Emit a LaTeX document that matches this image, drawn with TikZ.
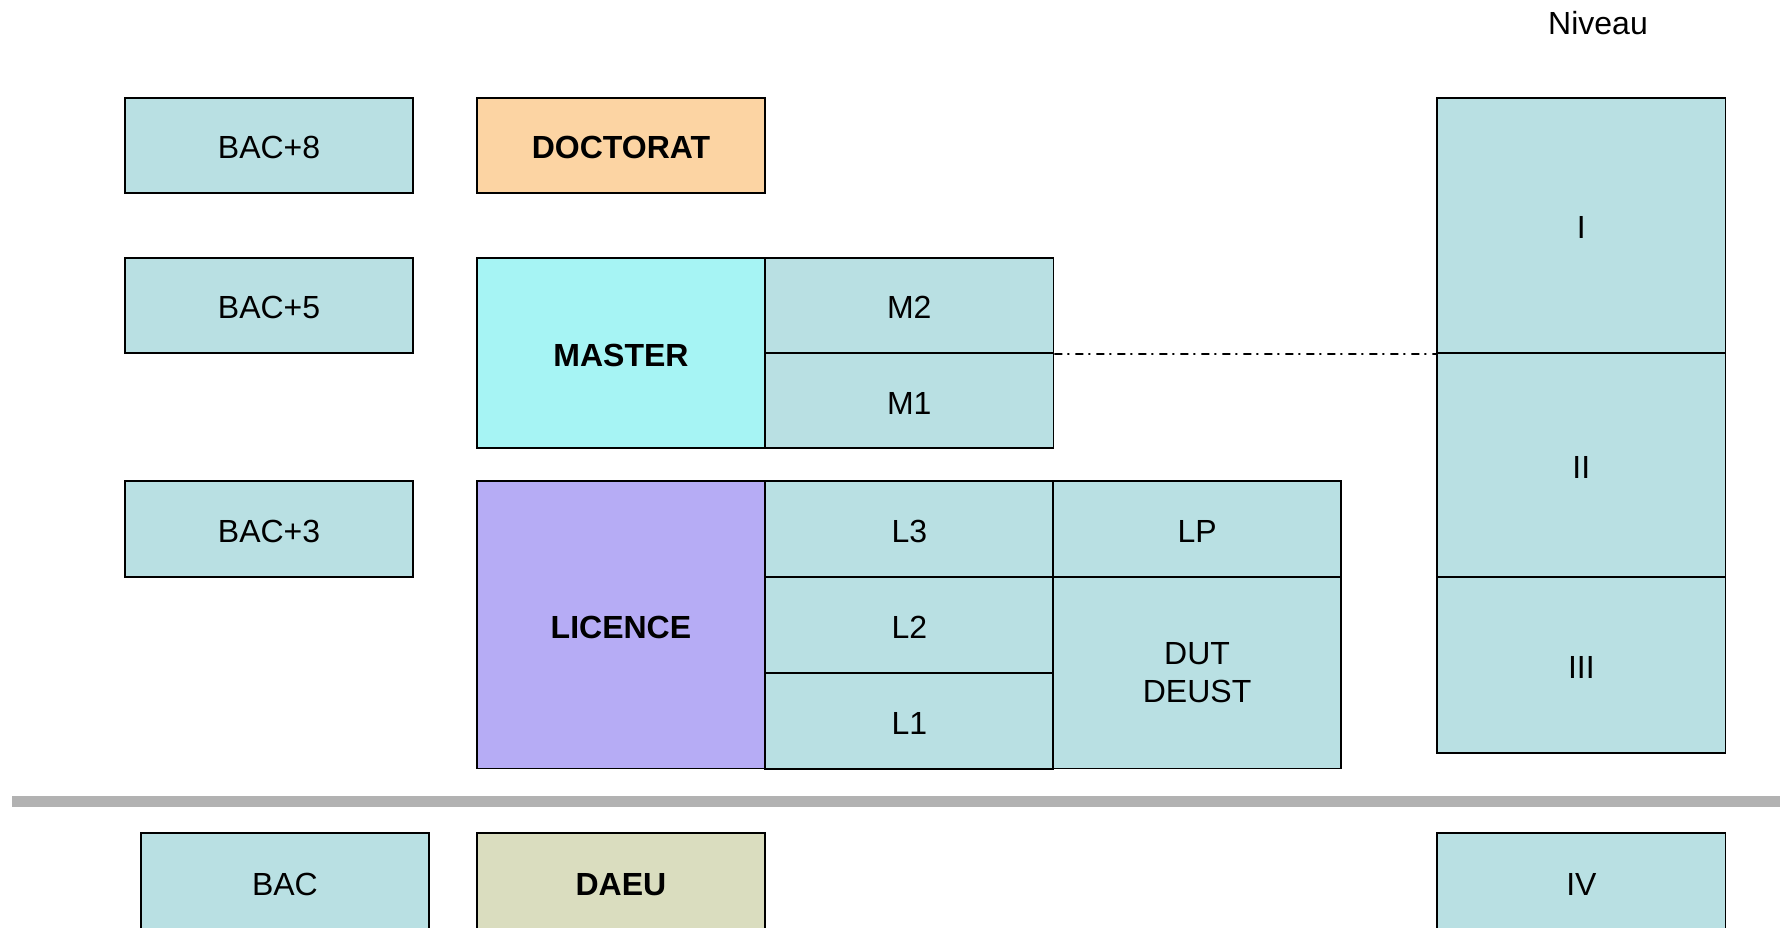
\documentclass[tikz,border=0pt]{standalone}
\usepackage{fontspec}
\setmainfont{Liberation Sans}
\definecolor{cellc}{HTML}{B9E0E3}
\definecolor{docc}{HTML}{FCD4A3}
\definecolor{masc}{HTML}{A6F4F4}
\definecolor{licc}{HTML}{B6ACF5}
\definecolor{daeuc}{HTML}{DADDBF}
\definecolor{barc}{HTML}{B2B2B2}
\begin{document}
\begin{tikzpicture}[x=1pt,y=-1pt,
  basecell/.style={draw=black, line width=1.9pt, fill=cellc, inner sep=0pt,
    minimum width=288.3pt, minimum height=95.4pt, align=center,
    font=\fontsize{32}{38.5}\selectfont},
  cell/.style={basecell, text height=27pt, text depth=0pt},
  boldcell/.style={cell, font=\fontsize{32}{38.5}\selectfont\bfseries},
  dashdotline/.style={line width=1.6pt, dash pattern=on 8pt off 5pt on 2pt off 6pt}]
\useasboundingbox (0,0) rectangle (1780,928);
\clip (0,0) rectangle (1780,928);
% grey separator
\fill[barc] (12,796) rectangle (1780,807);
% left column
\node[cell] (bac8) at (269.05,145.3) {BAC+8};
\node[cell] (bac5) at (269.05,305.35) {BAC+5};
\node[cell] (bac3) at (269.05,529) {BAC+3};
\node[cell, minimum height=97.4pt] (bac) at (284.95,882) {BAC};
% diplomas
\node[boldcell, fill=docc] (doc) at (620.95,145.3) {DOCTORAT};
\node[boldcell, fill=masc, minimum height=190.7pt] (master) at (620.95,353.05) {MASTER};
\node[boldcell, fill=licc, minimum height=287.2pt] (licence) at (620.95,624.9) {LICENCE};
\node[boldcell, fill=daeuc, minimum height=97.4pt] (daeu) at (620.95,882) {DAEU};
% years
\node[cell] (m2) at (909.3,305.35) {M2};
\node[cell] (m1) at (909.3,400.7) {M1};
\node[cell] (l3) at (909.3,529) {L3};
\node[cell] (l2) at (909.3,624.95) {L2};
\node[cell] (l1) at (909.3,720.85) {L1};
\node[cell] (lp) at (1197.1,529) {LP};
\node[basecell, minimum height=191.8pt] (dut) at (1197.1,672.6) {DUT\\DEUST};
% niveaux
\node[font=\fontsize{32}{38.5}\selectfont] (niveau) at (1598,23) {Niveau};
\node[cell, minimum height=255.4pt] (n1) at (1581.35,225.3) {I};
\node[cell, minimum height=223.7pt] (n2) at (1581.35,464.85) {II};
\node[cell, minimum height=175.9pt] (n3) at (1581.35,664.65) {III};
\node[cell, minimum height=97.4pt] (n4) at (1581.35,882) {IV};
% link
\draw[dashdotline] (m2.south east) -- (n1.south west);
\end{tikzpicture}
\end{document}
